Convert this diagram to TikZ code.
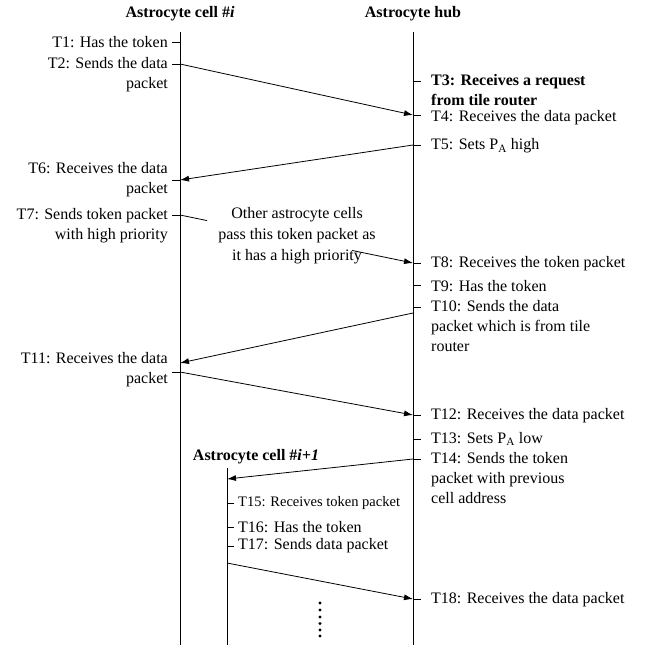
\documentclass[tikz,border=0pt]{standalone}
\usepackage{fontspec}
\setmainfont{Liberation Serif}
\usetikzlibrary{arrows.meta,calc}
\begin{document}
\begin{tikzpicture}[x=1pt,y=-1pt,
  lbl/.style={inner sep=0pt, font=\fontsize{16}{20}\selectfont},
  lblR/.style={lbl, anchor=west},
  lblL/.style={lbl, anchor=east},
  mlR/.style={lbl, anchor=north west, align=left},
  mlL/.style={lbl, anchor=north east, align=right},
  title/.style={inner sep=0pt, font=\fontsize{16}{20}\selectfont\bfseries},
  life/.style={line width=0.8pt},
  tick/.style={line width=0.8pt},
  msg/.style={line width=0.8pt, -{Latex[length=9pt,width=6pt]}},
  plain/.style={line width=0.8pt},
  dotc/.style={circle, fill=black, inner sep=0pt, minimum size=3.2pt}
]
\fill[white] (0,0) rectangle (650,648);
\useasboundingbox (0,0) rectangle (650,648);

% titles
\node[title] (tA) at (180,14) {Astrocyte cell \#\textit{i}};
\node[title] (tH) at (413,14) {Astrocyte hub};
\node[title] (tB) at (256,457) {Astrocyte cell \#\textit{i+1}};

% lifelines
\coordinate (Atop) at (180,32);  \coordinate (Abot) at (180,645);
\coordinate (Htop) at (413,32);  \coordinate (Hbot) at (413,645);
\coordinate (Btop) at (227,468); \coordinate (Bbot) at (227,645);
\draw[life] (Atop) -- (Abot);
\draw[life] (Htop) -- (Hbot);
\draw[life] (Btop) -- (Bbot);

% event points on cell i
\coordinate (a1) at (180,42);
\coordinate (a2) at (180,64);
\coordinate (a6) at (180,180);
\coordinate (a7) at (180,215);
\coordinate (a11in) at (180,363);
\coordinate (a11) at (180,372);
% event points on hub
\coordinate (h3) at (413,81);
\coordinate (h4) at (413,115);
\coordinate (h5) at (413,145);
\coordinate (h8) at (413,263);
\coordinate (h9) at (413,285);
\coordinate (h10) at (413,307);
\coordinate (h10out) at (413,313);
\coordinate (h12) at (413,415);
\coordinate (h13) at (413,439);
\coordinate (h14) at (413,459);
\coordinate (h18) at (413,599);
% event points on cell i+1
\coordinate (b14) at (227,479);
\coordinate (b15) at (227,503);
\coordinate (b16) at (227,527);
\coordinate (b17) at (227,546);
\coordinate (b17out) at (227,563);

% ticks on cell i (to the left)
\foreach \p in {a1,a2,a6,a7,a11}
  \draw[tick] (\p) -- ++(-8,0);
% ticks on hub (to the right)
\foreach \p in {h3,h4,h5,h8,h9,h10,h12,h13,h14,h18}
  \draw[tick] (\p) -- ++(8,0);
% ticks on cell i+1
\foreach \p in {b15,b16,b17}
  \draw[tick] (\p) -- ++(7,0);

% labels cell i
\node[lblL] (l1) at (168,42) {T1: Has the token};
\node[mlL] (l2) at (168,57) {T2: Sends the data\\packet};
\node[mlL] (l6) at (168,162) {T6: Receives the data\\packet};
\node[mlL] (l7) at (168,208) {T7: Sends token packet\\with high priority};
\node[mlL] (l11) at (168,352) {T11: Receives the data\\packet};

% labels hub
\node[mlR, font=\fontsize{16}{20}\selectfont\bfseries] (l3) at (431,74) {T3: Receives a request\\from tile router};
\node[lblR] (l4) at (431,118) {T4: Receives the data packet};
\node[lblR] (l5) at (431,146) {T5: Sets P\textsubscript{A} high};
\node[lblR] (l8) at (431,264) {T8: Receives the token packet};
\node[lblR] (l9) at (431,286) {T9: Has the token};
\node[mlR] (l10) at (431,300) {T10: Sends the data\\packet which is from tile\\router};
\node[lblR] (l12) at (431,416) {T12: Receives the data packet};
\node[lblR] (l13) at (431,439) {T13: Sets P\textsubscript{A} low};
\node[mlR] (l14) at (431,452) {T14: Sends the token\\packet with previous\\cell address};
\node[lblR] (l18) at (431,600) {T18: Receives the data packet};

% labels cell i+1
\node[lbl, anchor=west, font=\fontsize{14.5}{18}\selectfont] (l15) at (238,503) {T15: Receives token packet};
\node[lblR] (l16) at (238,527) {T16: Has the token};
\node[lblR] (l17) at (238,546) {T17: Sends data packet};

% messages
\draw[msg] (a2) -- (h4);
\draw[msg] (h5) -- (a6);
\coordinate (m7a) at ($(a7)!0.116!(h8)$);
\coordinate (m7b) at ($(a7)!0.738!(h8)$);
\draw[plain] (a7) -- (m7a);
\draw[msg] (m7b) -- (h8);
\node[lbl, align=center, font=\fontsize{16}{21}\selectfont] (mid) at (297,236) {Other astrocyte cells\\pass this token packet as\\it has a high priority};
\draw[msg] (h10out) -- (a11in);
\draw[msg] (a11) -- (h12);
\draw[msg] (h14) -- (b14);
\draw[msg] (b17out) -- (h18);

% continuation dots
\foreach \k [count=\i] in {603,610,617,623.5,630,636}
  \node[dotc] (d\i) at (320,\k) {};
\end{tikzpicture}
\end{document}
